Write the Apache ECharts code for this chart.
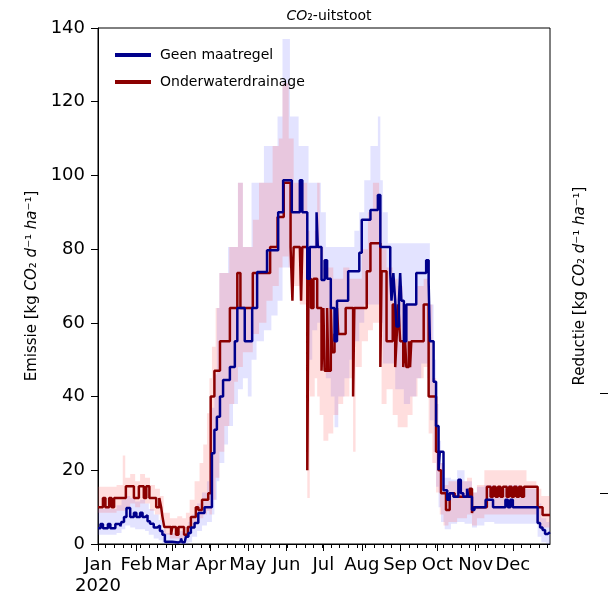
<!DOCTYPE html>
<html lang="nl">
<head>
<meta charset="UTF-8">
<title>CO2-uitstoot</title>
<style>
  html, body { margin: 0; padding: 0; background: #fff; }
</style>
</head>
<body>
<div id="main" style="width: 610px; height: 595px;"></div>
<script src="https://cdn.jsdelivr.net/npm/echarts@6/dist/echarts.min.js"></script>
<script>
// dag-van-het-jaar (0 = 1 jan 2020), waarde houdt aan tot het volgende punt
var monthNames = ['Jan', 'Feb', 'Mar', 'Apr', 'May', 'Jun', 'Jul', 'Aug', 'Sep', 'Oct', 'Nov', 'Dec'];
var monthStarts = [0, 31, 60, 91, 121, 152, 182, 213, 244, 274, 305, 335];
var yearLabel = '2020';
var weekTicks = [6, 13, 20, 27, 34, 41, 48, 55, 62, 69, 76, 83, 90, 97, 104, 111, 118, 125, 132, 139,
  146, 153, 160, 167, 174, 181, 188, 195, 202, 209, 216, 223, 230, 237, 244, 251, 258, 265, 272,
  279, 286, 293, 300, 307, 314, 321, 328, 335, 342, 349, 356, 363];

var geenLine = [[0, 4.3], [2, 5.4], [4, 4.3], [8, 5.4], [10, 4.3], [14, 5.4], [18, 4.8], [19, 6], [21, 7.3],
  [23, 9.8], [26, 7.3], [29, 8.5], [31, 7.3], [34, 8.5], [36, 7.3], [38, 7.8], [40, 6.2], [42, 5.5],
  [45, 4.5], [48, 5], [50, 3.5], [52, 2.5], [54, 0.6], [60, 0.4], [65, 0.8], [67, 1.5], [68, 0.5],
  [70, 0.8], [71, 2], [73, 3], [75, 4.5], [78, 5.7], [81, 8.4], [86, 10], [90, 10], [92, 24.6],
  [94, 31], [96, 34.5], [98.5, 40], [101, 44.5], [106.5, 48], [110.5, 55], [112.5, 64], [118.5, 55],
  [124.5, 64], [128.5, 73.8], [136.5, 79.7], [145.5, 90], [149.5, 98.7], [156.5, 90], [163, 98.7],
  [165, 90], [169, 72], [171, 80.6], [176.5, 90], [177.5, 80.6], [180.5, 71.6], [183, 77], [185, 72],
  [188, 64], [191, 55], [193, 66], [202, 74], [211, 79], [213, 88], [220, 90.6], [226, 94.7],
  [228, 80.6], [236, 73.5], [237, 66], [238.5, 73.5], [240, 66], [241, 59], [243, 66], [244, 73.5],
  [245, 66], [247, 55], [249, 65], [257, 73.5], [265, 77], [267, 71], [268, 55], [271, 44], [273, 32],
  [275, 20], [276, 25], [279, 14.6], [282, 12], [284, 13.8], [287, 12.8], [291, 17.4], [293, 13.8],
  [295, 12.8], [298, 15], [299, 12.8], [302, 9.2], [304, 10], [313, 12], [319, 10], [329, 12],
  [331, 10], [333, 12], [335, 10], [355, 5.7], [357, 4.5], [359, 3.8], [361, 2.7], [363, 3.2], [365, 3.2]];

var onderLine = [[0, 10], [4, 12.5], [6, 10], [9, 12.5], [11, 10], [13, 12.5], [22.5, 15.7], [29, 12.5],
  [33, 15.7], [37, 12.5], [39, 15.7], [41.5, 12.5], [47, 10], [49.5, 12.5], [51, 10], [52, 7.5],
  [53.5, 4.6], [59, 2.5], [60, 4.6], [63, 2.5], [65, 4.6], [69.5, 2.5], [72.5, 4.6], [75, 7.3],
  [79, 10], [81, 9.2], [84, 12], [89, 13.8], [91, 40], [94, 47], [98.5, 55], [106.5, 64],
  [112.5, 73.5], [115, 64], [125, 73.5], [139, 80.6], [145, 88.7], [150, 98], [155.5, 80.6],
  [157, 66], [158, 80.6], [163, 80.6], [164, 66], [165, 80.6], [169, 20], [170, 72], [172, 64],
  [174, 72], [177, 64], [180.5, 47], [182, 64], [183, 47], [185, 64], [186, 47], [188, 64],
  [189, 52], [191, 57], [193, 64], [194, 57], [200, 64], [206, 40], [207, 64], [217, 74],
  [220, 81.6], [228, 48], [229, 74], [233, 55], [238, 65], [240, 48], [241, 55], [242.5, 65],
  [244, 55], [246.5, 48], [248, 55], [249, 48], [251, 55], [252, 48], [253, 55], [263, 65],
  [267, 40], [273, 25], [275, 20], [277, 13.8], [281, 9.2], [284, 13.8], [288, 12.8], [300, 15],
  [302, 8.4], [303, 10], [314, 15.5], [317, 12.8], [319, 15.5], [321, 12.8], [323, 15.5], [325, 12.8],
  [327, 15.5], [330, 12.8], [332, 15.5], [334, 12.8], [336, 15.5], [338, 12.8], [340, 15.5],
  [342, 12.8], [344, 15.5], [355, 10], [359, 7.9], [365, 7.9]];

// [dag, minimum, maximum]
var geenBand = [[0, 2.5, 9.5], [5, 2.5, 10], [10, 2.5, 9.5], [15, 3, 10.5], [19, 4, 12], [22, 5, 13],
  [26, 4.5, 12.5], [30, 4, 11.5], [34, 4, 12], [38, 3.5, 11], [41, 2.5, 9.5], [45, 1.5, 8], [49, 1, 6.5],
  [52, 0, 4], [55, 0, 3], [62, 0, 2.5], [66, 0, 3.5], [70, 0, 3], [73, 0.5, 6], [76, 2, 8], [80, 3.5, 11],
  [84, 5, 14], [88, 6, 17], [90, 6, 20], [92, 8, 37], [94, 12, 46], [96, 17, 64], [98, 22, 73.5],
  [102, 27, 73.5], [105, 32, 80.6], [109, 38, 80.6], [113, 42, 98], [117, 45, 80.6], [121, 40, 80.6],
  [124, 50, 98], [128, 55, 98], [134, 58, 108], [140, 62, 108], [145, 66, 116], [149, 75, 137],
  [155, 80, 116], [162, 80, 108], [168, 66, 108], [170, 50, 98], [173, 58, 98], [177, 60, 98],
  [180, 48, 90], [184, 45, 80.6], [188, 40, 80.6], [191, 31.7, 80.6], [194, 40, 80.6], [199, 45, 80.6],
  [203, 50, 80.6], [207, 55, 85], [211, 60, 90], [215, 65, 98.7], [220, 65, 108], [226, 65, 116],
  [228, 60, 98.7], [230, 49, 90], [234, 49, 81.6], [240, 42, 81.6], [247, 38, 81.6], [252, 40, 81.6],
  [257, 45, 81.6], [261, 49, 81.6], [266, 45, 81.6], [268, 33.6, 65], [271, 25, 50], [273, 15.5, 38],
  [275, 10, 28], [277, 6, 22], [280, 4, 18], [285, 5.5, 17.5], [290, 6, 20], [296, 5.5, 17],
  [302, 4.5, 14], [306, 5, 15.5], [312, 6, 16], [320, 5.5, 15], [330, 5.5, 16], [340, 5.5, 15],
  [350, 5.5, 15], [355, 2, 11], [358, 0.5, 7], [362, 0, 6], [365, 0, 6]];

var onderBand = [[0, 8.5, 15.5], [15, 9, 16], [20, 9, 24], [22, 10, 18], [26, 11, 19], [30, 10, 17],
  [34, 11, 19], [38, 11, 18], [42, 9, 16], [46, 8, 15], [50, 6.5, 13], [53, 2.5, 8.5], [58, 1.5, 7],
  [64, 1.5, 7.5], [68, 1.5, 7], [71, 2, 8.5], [74, 4, 12], [78, 6, 17], [82, 7, 22], [85, 8, 27],
  [88, 9, 35.5], [90, 8, 45], [92, 12, 53.5], [95, 18, 64], [98, 25, 73.5], [102, 32, 73.5],
  [106, 38, 80.6], [110, 44, 80.6], [113, 48, 98], [117, 52, 80.6], [121, 52, 80.6], [125, 57, 88],
  [130, 60, 98], [136, 66, 98], [141, 70, 108], [146, 75, 110], [149, 78, 125], [154, 75, 110],
  [158, 70, 98], [163, 65, 98], [168, 55, 98], [169, 12.5, 85], [171, 40, 80.6], [175, 45, 85],
  [177, 40, 98], [179, 35, 80.6], [182, 28, 75], [186, 30, 75], [190, 35, 72], [194, 38, 72],
  [198, 40, 75], [203, 45, 72], [206, 25, 72], [208, 48, 72], [213, 55, 80], [218, 58, 90],
  [222, 60, 98], [227, 55, 90], [229, 38, 80], [233, 42, 75], [238, 35, 72], [242, 31.7, 70],
  [246, 31.7, 65], [250, 35, 65], [254, 40, 65], [258, 45, 70], [263, 48, 72], [267, 30, 65],
  [270, 22, 45], [273, 14, 32], [276, 8, 22], [279, 5, 16], [283, 6, 17], [290, 7, 17], [298, 8, 18],
  [302, 5, 14], [306, 7, 16], [312, 8, 20], [346, 8, 17], [354, 6, 15], [358, 4.5, 13], [365, 4.5, 13]];

var fontName = 'DejaVu Sans';
var dayMax = 365;

function bandSeries(band, color) {
  return {
    type: 'custom',
    xAxisIndex: 0,
    yAxisIndex: 0,
    silent: true,
    z: 1,
    data: [[0, 0]],
    renderItem: function (params, api) {
      var top = [], bottom = [];
      for (var i = 0; i < band.length; i++) {
        var x0 = band[i][0];
        var x1 = i + 1 < band.length ? band[i + 1][0] : dayMax;
        top.push(api.coord([x0, band[i][2]]), api.coord([x1, band[i][2]]));
        bottom.push(api.coord([x0, band[i][1]]), api.coord([x1, band[i][1]]));
      }
      return {
        type: 'polygon',
        shape: { points: top.concat(bottom.reverse()) },
        style: { fill: color }
      };
    }
  };
}

function richStyles(size) {
  return {
    n: { fontFamily: fontName, fontSize: size, fontWeight: 'normal', color: '#000' },
    i: { fontFamily: fontName, fontSize: size, fontWeight: 'normal', color: '#000', fontStyle: 'italic' }
  };
}

var unitName = '{i|CO}{n|₂ }{i|d}{n|⁻¹ }{i|ha}{n|⁻¹]}';

var chart = echarts.init(document.getElementById('main'));

chart.setOption({
  animation: false,
  backgroundColor: '#fff',
  title: {
    text: '{i|CO}{n|₂-uitstoot}',
    left: 324,
    top: 4,
    textAlign: 'center',
    textStyle: { fontWeight: 'normal', rich: richStyles(14) }
  },
  legend: {
    data: ['Geen maatregel', 'Onderwaterdrainage'],
    orient: 'vertical',
    left: 110,
    top: 43,
    icon: 'rect',
    itemWidth: 36,
    itemHeight: 4,
    itemGap: 13,
    textStyle: { fontFamily: fontName, fontSize: 14, color: '#000', padding: [0, 0, 0, 4] }
  },
  grid: [
    { left: 98, right: 60, top: 28, bottom: 51, show: true, borderColor: '#000', borderWidth: 1 },
    { left: 608, width: 100, top: 28, bottom: 51 }
  ],
  xAxis: [
    {
      type: 'value', gridIndex: 0, min: 0, max: dayMax,
      axisLine: { lineStyle: { color: '#000', width: 1 } },
      splitLine: { show: false },
      axisTick: { customValues: monthStarts, length: 7, lineStyle: { color: '#000' } },
      axisLabel: {
        customValues: monthStarts,
        showMinLabel: true,
        hideOverlap: false,
        margin: 12,
        fontFamily: fontName, fontSize: 18, color: '#000',
        formatter: function (v) {
          return monthNames[monthStarts.indexOf(v)] || '';
        }
      }
    },
    {
      // weekstreepjes en het jaartal onder januari
      type: 'value', gridIndex: 0, min: 0, max: dayMax, position: 'bottom',
      axisLine: { show: false },
      splitLine: { show: false },
      axisLabel: {
        customValues: [0],
        showMinLabel: true,
        margin: 33,
        fontFamily: fontName, fontSize: 18, color: '#000',
        formatter: function () { return yearLabel; }
      },
      axisTick: { customValues: weekTicks, length: 4, lineStyle: { color: '#000' } }
    },
    { type: 'value', gridIndex: 1, min: 0, max: 1, show: false }
  ],
  yAxis: [
    {
      type: 'value', gridIndex: 0, min: 0, max: 140, interval: 20,
      name: '{n|Emissie [kg }' + unitName,
      nameLocation: 'middle',
      nameGap: 56,
      nameTextStyle: { rich: richStyles(15) },
      axisLine: { show: true, lineStyle: { color: '#000', width: 1 } },
      splitLine: { show: false },
      axisTick: { show: true, length: 7, lineStyle: { color: '#000' } },
      axisLabel: { margin: 13, showMinLabel: true, fontFamily: fontName, fontSize: 18, color: '#000' }
    },
    {
      type: 'value', gridIndex: 1, min: 0, max: 5.16,
      name: '{n|Reductie [kg }' + unitName,
      nameLocation: 'middle',
      nameGap: 20,
      nameTextStyle: { rich: richStyles(15) },
      axisLine: { show: false },
      splitLine: { show: false },
      axisTick: { show: true, customValues: [0.51, 1.51], length: 8, lineStyle: { color: '#000' } },
      axisLabel: { show: false }
    }
  ],
  series: [
    bandSeries(geenBand, 'rgba(90, 90, 255, 0.17)'),
    bandSeries(onderBand, 'rgba(255, 90, 90, 0.2)'),
    {
      name: 'Onderwaterdrainage', type: 'line', step: 'end', xAxisIndex: 0, yAxisIndex: 0,
      data: onderLine, showSymbol: false, z: 3,
      lineStyle: { color: '#8b0000', width: 2.5 }, itemStyle: { color: '#8b0000' }
    },
    {
      name: 'Geen maatregel', type: 'line', step: 'end', xAxisIndex: 0, yAxisIndex: 0,
      data: geenLine, showSymbol: false, z: 4,
      lineStyle: { color: '#00008b', width: 2.5 }, itemStyle: { color: '#00008b' }
    },
    { type: 'line', xAxisIndex: 2, yAxisIndex: 1, data: [], showSymbol: false }
  ]
});
</script>
</body>
</html>
